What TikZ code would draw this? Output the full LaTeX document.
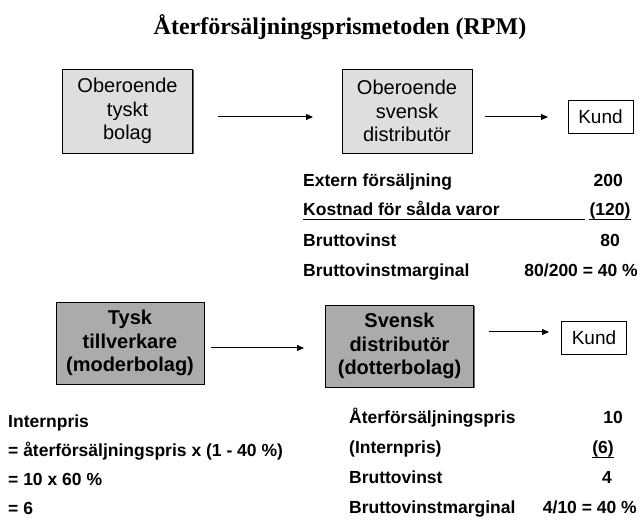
\documentclass[tikz,border=0pt]{standalone}
\usepackage{fontspec}
\setmainfont{Liberation Serif}
\setsansfont{Liberation Sans}
\usetikzlibrary{arrows.meta,shadows}

\definecolor{ljusgra}{HTML}{DEDEDE}
\definecolor{mellangra}{HTML}{ABABAB}

\tikzset{
  bolag/.style={draw=black, line width=0.8pt, inner sep=0pt, align=center,
    minimum width=130pt, minimum height=84pt,
    drop shadow={shadow xshift=1pt, shadow yshift=-1pt, fill=black!60, opacity=1}},
  oberoende/.style={bolag, fill=ljusgra, font=\sffamily\fontsize{20}{23.5}\selectfont},
  koncern/.style={bolag, fill=mellangra, minimum width=148pt, minimum height=82pt,
    font=\sffamily\bfseries\fontsize{20}{23.5}\selectfont},
  kund/.style={draw=black, line width=0.6pt, fill=white, inner sep=0pt,
    minimum width=65pt, minimum height=33pt, font=\sffamily\fontsize{19}{22}\selectfont},
  flode/.style={line width=1pt, -{Triangle[length=7pt, width=6pt]}},
  post/.style={font=\sffamily\bfseries\fontsize{17.5}{20}\selectfont, inner sep=0pt},
}

% rad i kalkylen: namn, x, baslinje, text
\newcommand{\post}[4]{
    \node[post, anchor=base west] (#1) at (#2,#3) {#4};
}
% belopp: namn, x, baslinje, ankare, text
\newcommand{\belopp}[5]{
    \node[post, anchor=#4] (#1) at (#2,#3) {#5};
}

\begin{document}
\begin{tikzpicture}[x=1pt, y=-1pt]
  \useasboundingbox (0,0) rectangle (641,521);

  \node[font=\rmfamily\bfseries\fontsize{24}{28}\selectfont, anchor=base] (rubrik) at (340,35)
    {Återförsäljningsprismetoden (RPM)};

  % oberoende parter
  \node[oberoende] (tyskt) at (127.5,111) {Oberoende\\tyskt\\bolag};
  \node[oberoende] (svensk) at (407,111) {Oberoende\\svensk\\distributör};
  \node[kund] (kund1) at (600.5,117) {Kund};
  \coordinate (a1) at (218,117);
  \coordinate (b1) at (313,117);
  \coordinate (a2) at (485,117);
  \coordinate (b2) at (548,117);
  \draw[flode] (a1) -- (b1);
  \draw[flode] (a2) -- (b2);

  \post{ext}{303}{187}{Extern försäljning}
  \post{kost}{303}{216}{Kostnad för sålda varor}
  \post{bv1}{303}{247}{Bruttovinst}
  \post{bvm1}{303}{277}{Bruttovinstmarginal}
  \belopp{ext-b}{623}{187}{base east}{200}
  \belopp{kost-b}{610}{216}{base}{(120)}
  \belopp{bv1-b}{610}{247}{base}{80}
  \belopp{bvm1-b}{638}{277}{base east}{80/200 = 40 \%}
  \draw[line width=1.3pt] ([yshift=-3.5pt]kost.base west) -- ++(282,0);
  \draw[line width=1.3pt] ([yshift=-3.5pt]kost-b.base west) -- ([yshift=-3.5pt]kost-b.base east);

  % koncernen
  \node[koncern] (moder) at (130,343) {Tysk\\tillverkare\\(moderbolag)};
  \node[koncern] (dotter) at (399.5,346) {Svensk\\distributör\\(dotterbolag)};
  \node[kund] (kund2) at (594,338) {Kund};
  \coordinate (a3) at (211,348);
  \coordinate (b3) at (304,348);
  \coordinate (a4) at (489,332);
  \coordinate (b4) at (549,332);
  \draw[flode] (a3) -- (b3);
  \draw[flode] (a4) -- (b4);

  \post{ip}{8}{428}{Internpris}
  \post{ip1}{8}{457}{= återförsäljningspris x (1 - 40 \%)}
  \post{ip2}{8}{486}{= 10 x 60 \%}
  \post{ip3}{8}{515}{= 6}

  \post{afp}{349}{424}{Återförsäljningspris}
  \post{int}{349}{454}{(Internpris)}
  \post{bv2}{349}{484}{Bruttovinst}
  \post{bvm2}{349}{514}{Bruttovinstmarginal}
  \belopp{afp-b}{613}{424}{base}{10}
  \belopp{int-b}{603}{454}{base}{(6)}
  \belopp{bv2-b}{607}{484}{base}{4}
  \belopp{bvm2-b}{637}{514}{base east}{4/10 = 40 \%}
  \draw[line width=1.1pt] ([yshift=-3.5pt]int-b.base west) -- ([yshift=-3.5pt]int-b.base east);

\end{tikzpicture}
\end{document}
